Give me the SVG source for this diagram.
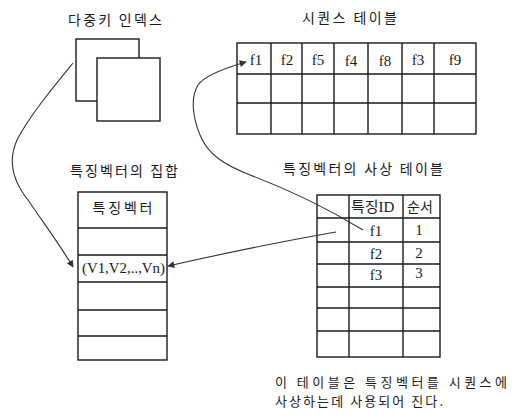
<svg xmlns="http://www.w3.org/2000/svg" width="523" height="418" viewBox="0 0 523 418">
<defs>
<style>
.box{fill:#fff;stroke:#1a1a1a;stroke-width:1.4}
.ln{stroke:#1a1a1a;stroke-width:1.4;fill:none}
.con{stroke:#333;stroke-width:1.1;fill:none}
.ko{font-family:"Noto Sans CJK KR","Liberation Sans",sans-serif;font-size:14px;fill:#1a1a1a}
.note{font-family:"Noto Sans CJK KR","Liberation Sans",sans-serif;font-size:13px;fill:#1a1a1a}
.ser{font-family:"Liberation Serif","Noto Sans CJK KR",serif;font-size:15px;fill:#1a1a1a}
</style>
<marker id="ah" viewBox="0 0 10 10" refX="9" refY="5" markerWidth="8" markerHeight="7" orient="auto" markerUnits="userSpaceOnUse">
<path d="M0,0 L10,5 L0,10 z" fill="#333"/>
</marker>
</defs>
<rect width="523" height="418" fill="#fff"/>

<g id="multikey-index">
<text class="ko" x="68" y="25" textLength="94" lengthAdjust="spacing">다중키 인덱스</text>
<rect class="box" x="76" y="39" width="63" height="62"/>
<rect class="box" x="97" y="58" width="63" height="63"/>
</g>

<g id="sequence-table">
<text class="ko" x="302" y="23" textLength="95" lengthAdjust="spacing">시퀀스 테이블</text>
<rect class="box" x="237" y="43" width="239" height="91"/>
<path class="ln" d="M237,74H476M237,103H476M271,43V134M302,43V134M334,43V134M368,43V134M402,43V134M434,43V134"/>
<g class="ser" text-anchor="middle">
<text x="256" y="65">f1</text>
<text x="287" y="65">f2</text>
<text x="318" y="65">f5</text>
<text x="351" y="66">f4</text>
<text x="385" y="66">f8</text>
<text x="418" y="65">f3</text>
<text x="455" y="65">f9</text>
</g>
</g>

<g id="feature-vector-set">
<text class="ko" x="70" y="176" textLength="108" lengthAdjust="spacing">특징벡터의 집합</text>
<rect class="box" x="78" y="192" width="89" height="168"/>
<path class="ln" d="M78,228H167M78,255H167M78,282H167M78,310H167M78,336H167"/>
<text class="ko" x="122.5" y="213" text-anchor="middle" textLength="60" lengthAdjust="spacing">특징벡터</text>
<text class="ser" x="82" y="273" textLength="83" lengthAdjust="spacingAndGlyphs">(V1,V2,..,Vn)</text>
</g>

<g id="mapping-table">
<text class="ko" x="283" y="174" textLength="160" lengthAdjust="spacing">특징벡터의 사상 테이블</text>
<rect class="box" x="317" y="195" width="123" height="162"/>
<path class="ln" d="M317,218H440M317,242H440M317,264H440M317,287H440M317,308H440M317,331H440M349,195V357M403,195V357"/>
<text class="ser" x="351" y="212" font-size="14">특징ID</text>
<text class="ko" x="407" y="212">순서</text>
<g class="ser" text-anchor="middle">
<text x="376" y="236">f1</text>
<text x="376" y="259">f2</text>
<text x="376" y="280">f3</text>
<text x="419" y="235">1</text>
<text x="419" y="258">2</text>
<text x="419" y="278">3</text>
</g>
</g>

<g id="note">
<text class="note" x="275" y="387" textLength="232" lengthAdjust="spacing">이 테이블은 특징벡터를 시퀀스에</text>
<text class="note" x="275" y="406" textLength="168" lengthAdjust="spacing">사상하는데 사용되어 진다.</text>
</g>

<g id="connectors">
<path class="con" marker-end="url(#ah)" d="M73,63 C55,85 30,115 17,140 C8,160 12,180 28,200 C45,225 60,245 73,267"/>
<path class="con" marker-end="url(#ah)" d="M363,230 C330,210 290,190 250,175 C225,165 208,155 200,135 C193,118 190,98 198,85 C205,75 225,68 246,62"/>
<path class="con" marker-end="url(#ah)" d="M336,232 C290,240 230,252 168,266"/>
</g>
</svg>
